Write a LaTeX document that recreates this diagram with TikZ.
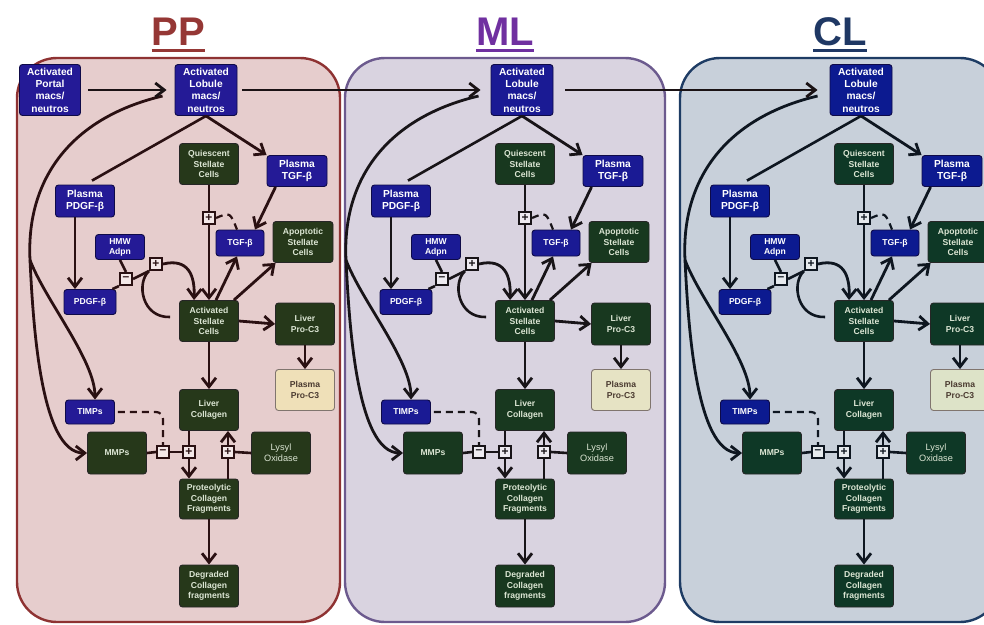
\documentclass[tikz,border=0pt]{standalone}
\usepackage{fontspec}
\setmainfont{Liberation Sans}
\usepackage{xcolor}
\usepackage{tikz}
\usetikzlibrary{positioning,arrows.meta,calc}
% default colours, redefined for each zone below
\definecolor{titlecol}{HTML}{953735}
\definecolor{panelfill}{HTML}{E6CDCD}
\definecolor{paneledge}{HTML}{8E3232}
\definecolor{flowline}{HTML}{1A1214}
\definecolor{molblue}{HTML}{241A96}
\definecolor{moledge}{HTML}{0E0A48}
\definecolor{cellgreen}{HTML}{24381A}
\definecolor{cellink}{HTML}{DCE6D4}
\definecolor{procream}{HTML}{EFE0B8}
\definecolor{procink}{HTML}{4A3A30}
\newcommand\molfont{\bfseries\fontsize{10.2}{12.4}\selectfont}
\newcommand\molsmall{\bfseries\fontsize{8.6}{10}\selectfont}
\newcommand\cellfont{\bfseries\fontsize{8.6}{10.6}\selectfont}
\newcommand\lysfont{\fontsize{9.2}{10.8}\selectfont}
\tikzset{
  panelbox/.style={rounded corners=40pt, line width=2.4pt, draw=paneledge, fill=panelfill},
  titletext/.style={anchor=base, inner sep=0pt, text=titlecol, font=\bfseries\fontsize{40}{40}\selectfont},
  molbox/.style={rounded corners=3pt, draw=moledge, line width=0.9pt, fill=molblue, text=white, align=center, inner sep=1pt, font=\molfont},
  cellbox/.style={rounded corners=3pt, draw=black!85, line width=0.9pt, fill=cellgreen, text=cellink, align=center, inner sep=1pt, minimum width=59pt, minimum height=41pt, font=\cellfont},
  procbox/.style={rounded corners=3pt, draw=procink!70, line width=0.9pt, fill=procream, text=procink, align=center, inner sep=1pt, minimum width=59pt, minimum height=41pt, font=\cellfont},
  signbox/.style={draw=flowline, line width=1.6pt, fill=white!55!panelfill, minimum width=12.5pt, minimum height=12.5pt, inner sep=0pt, text=flowline, font=\bfseries\fontsize{12}{12}\selectfont},
  flowarr/.style={-{Straight Barb[length=9pt,width=14pt]}, line width=2.8pt, draw=flowline},
  linkln/.style={line width=2.6pt, draw=flowline},
  inhibln/.style={line width=2.2pt, draw=flowline, dash pattern=on 7pt off 5pt}
}

\begin{document}
\begin{tikzpicture}[x=1pt, y=1pt]
\useasboundingbox (0,0) rectangle (984,-624);
\clip (0,0) rectangle (984,-624);

\foreach \pnl/\dx/\xl/\xr/\ttl/\tcol/\pfill/\pedge/\lcol/\bcol/\gcol/\ccol in {
  pp/0/17/340/PP/953735/E6CDCD/8E3232/2A1012/241A96/26381A/EFE0B8,
  ml/316/345/665/ML/7030A0/D9D3E0/6C5A8E/181418/1A1A94/18381F/E6E3C4,
  cl/655/680/1000/CL/1F3864/C8D0DA/1E3C64/0E1620/0C1A90/0E3826/DDE3C8}{
  \definecolor{titlecol}{HTML}{\tcol}
  \definecolor{panelfill}{HTML}{\pfill}
  \definecolor{paneledge}{HTML}{\pedge}
  \definecolor{flowline}{HTML}{\lcol}
  \definecolor{molblue}{HTML}{\bcol}
  \definecolor{cellgreen}{HTML}{\gcol}
  \definecolor{procream}{HTML}{\ccol}
  % zone frame and heading
  \draw[panelbox] (\xl,-58) rectangle (\xr,-622);
  \node[titletext] (\pnl-title) at ({(\xl+\xr)/2},-45) {\ttl};
  \draw[line width=3pt, draw=titlecol] ([yshift=-5pt]\pnl-title.base west) -- ([yshift=-5pt]\pnl-title.base east);
  \begin{scope}[xshift=\dx pt]
    % species and cell pools
    \node[molbox, minimum width=62pt, minimum height=51pt] (\pnl-lob) at (206,-90) {Activated\\Lobule\\macs/\\neutros};
    \node[cellbox] (\pnl-qsc) at (209,-164) {Quiescent\\Stellate\\Cells};
    \node[molbox, minimum width=60pt, minimum height=31pt] (\pnl-ptgf) at (297,-171) {Plasma\\TGF-β};
    \node[molbox, minimum width=59pt, minimum height=32pt] (\pnl-ppdgf) at (85,-201) {Plasma\\PDGF-β};
    \node[molbox, font=\molsmall, minimum width=49pt, minimum height=25pt] (\pnl-hmw) at (120,-247) {HMW\\Adpn};
    \node[molbox, font=\molsmall, minimum width=48pt, minimum height=26pt] (\pnl-tgf) at (240,-243) {TGF-β};
    \node[cellbox, minimum width=60pt] (\pnl-apo) at (303,-242) {Apoptotic\\Stellate\\Cells};
    \node[molbox, font=\molsmall, minimum width=52pt, minimum height=25pt] (\pnl-pdgf) at (90,-302) {PDGF-β};
    \node[cellbox] (\pnl-asc) at (209,-321) {Activated\\Stellate\\Cells};
    \node[cellbox, minimum height=42pt] (\pnl-lpc) at (305,-324) {Liver\\Pro-C3};
    \node[procbox] (\pnl-ppc) at (305,-390) {Plasma\\Pro-C3};
    \node[molbox, font=\molsmall, minimum width=49pt, minimum height=24pt] (\pnl-timps) at (90,-412) {TIMPs};
    \node[cellbox] (\pnl-lcol) at (209,-410) {Liver\\Collagen};
    \node[cellbox, minimum height=42pt] (\pnl-mmps) at (117,-453) {MMPs};
    \node[cellbox, minimum height=42pt, font=\lysfont] (\pnl-lox) at (281,-453) {Lysyl\\Oxidase};
    \node[cellbox, minimum height=40pt] (\pnl-pcf) at (209,-499) {Proteolytic\\Collagen\\Fragments};
    \node[cellbox, minimum height=42pt] (\pnl-dcf) at (209,-586) {Degraded\\Collagen\\fragments};
    % regulation marks
    \node[signbox] (\pnl-sq) at (209,-218) {+};
    \node[signbox] (\pnl-sm1) at (126,-279) {–};
    \node[signbox] (\pnl-sp1) at (156,-264) {+};
    \node[signbox] (\pnl-sm2) at (163,-452) {–};
    \node[signbox] (\pnl-sp2) at (189,-452) {+};
    \node[signbox] (\pnl-sp3) at (228,-452) {+};
    % recruitment from the lobule
    \draw[flowarr] ([shift={(-12pt,-6pt)}]\pnl-lob.west) .. controls (70,-118) and (26,-180) .. (30,-260) coordinate (\pnl-fork)
      .. controls (33,-320) and (40,-453) .. (\pnl-mmps.west);
    \draw[flowarr] (\pnl-fork) .. controls (45,-300) and (95,-360) .. ([xshift=5pt]\pnl-timps.north);
    \draw[linkln, shorten >=8pt] (\pnl-lob.south) -- (\pnl-ppdgf.north);
    \draw[flowarr] (\pnl-lob.south) -- (\pnl-ptgf.north west);
    % stellate activation
    \draw[linkln] (\pnl-qsc.south) -- (\pnl-sq.north);
    \draw[flowarr] (\pnl-sq.south) -- (\pnl-asc.north);
    \draw[inhibln] (\pnl-sq.east) .. controls (230,-212) .. ([xshift=-3pt]\pnl-tgf.north);
    \draw[flowarr] ([xshift=9pt]\pnl-ptgf.south west) -- ([xshift=15pt]\pnl-tgf.north);
    \draw[flowarr] ([xshift=-10pt]\pnl-ppdgf.south) -- ([xshift=-15pt]\pnl-pdgf.north);
    \draw[linkln] (\pnl-hmw.south) -- (\pnl-sm1.north);
    \draw[linkln] ([xshift=-4pt]\pnl-pdgf.north east) -- (\pnl-sm1.south west);
    \draw[linkln] (\pnl-sm1.east) -- (\pnl-sp1.south west);
    \draw[flowarr] (\pnl-sp1.east) .. controls (188,-258) and (195,-275) .. ([xshift=-15pt]\pnl-asc.north);
    \draw[linkln] ([shift={(-9pt,4pt)}]\pnl-asc.west) .. controls (142,-318) and (136,-283) .. (\pnl-sp1.south west);
    \draw[flowarr] ([xshift=7pt]\pnl-asc.north) -- ([xshift=-3pt]\pnl-tgf.south);
    \draw[flowarr] ([xshift=-5pt]\pnl-asc.north east) -- ([xshift=3pt]\pnl-apo.south west);
    \draw[flowarr] (\pnl-asc.east) -- (\pnl-lpc.west);
    \draw[flowarr] (\pnl-lpc.south) -- (\pnl-ppc.north);
    \draw[flowarr] (\pnl-asc.south) -- (\pnl-lcol.north);
    % collagen turnover
    \draw[inhibln, rounded corners=7pt, shorten <=3pt] (\pnl-timps.east) -| (\pnl-sm2.north);
    \draw[linkln] (\pnl-mmps.east) -- (\pnl-sm2.west);
    \draw[linkln] (\pnl-sm2.east) -- (\pnl-sp2.west);
    \draw[linkln] (\pnl-sp2 |- \pnl-lcol.south) -- (\pnl-sp2.north);
    \draw[flowarr] (\pnl-sp2.south) -- (\pnl-sp2 |- \pnl-pcf.north);
    \draw[linkln] (\pnl-sp3 |- \pnl-pcf.north) -- (\pnl-sp3.south);
    \draw[flowarr] (\pnl-sp3.north) -- (\pnl-sp3 |- \pnl-lcol.south);
    \draw[linkln] (\pnl-lox.west) -- (\pnl-sp3.east);
    \draw[flowarr] (\pnl-pcf.south) -- (\pnl-dcf.north);
  \end{scope}
}

% portal inflow and zone-to-zone passage
\node[molbox, minimum width=61pt, minimum height=51pt] (portal) at (50,-90) {Activated\\Portal\\macs/\\neutros};
\draw[flowarr, shorten <=7pt, shorten >=8pt] (portal.east) -- (pp-lob.west);
\draw[flowarr, shorten <=5pt, shorten >=10pt] (pp-lob.east) -- (ml-lob.west);
\draw[flowarr, shorten <=12pt, shorten >=12pt] (ml-lob.east) -- (cl-lob.west);
\end{tikzpicture}
\end{document}
